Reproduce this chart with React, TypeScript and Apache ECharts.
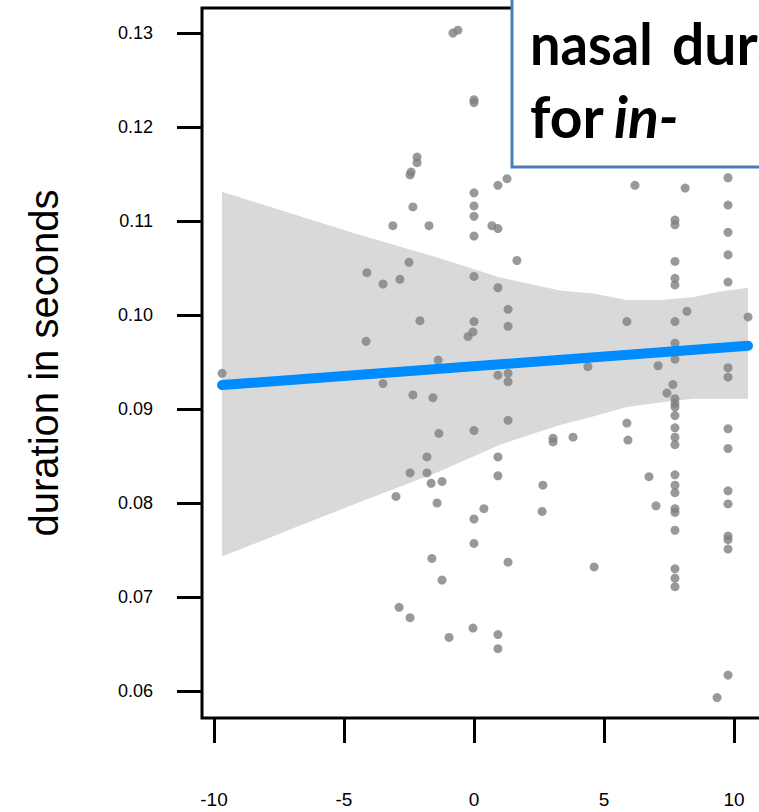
import { useEffect, useRef } from "react";
import * as echarts from "echarts";

// Axis ticks
const xTicks = [-10, -5, 0, 5, 10];
const yTicks = [0.06, 0.07, 0.08, 0.09, 0.1, 0.11, 0.12, 0.13];

// Observed nasal durations: [relative position, duration in s]
const tokens: [number, number][] = [
  [-9.69, 0.0938], [-0.81, 0.13], [-0.62, 0.1303], [0, 0.1229], [0, 0.1226],
  [-2.19, 0.1168], [-2.19, 0.1162], [-2.42, 0.1152], [-2.46, 0.1149],
  [0, 0.113], [0, 0.1116], [0, 0.1105], [0, 0.1084], [0.92, 0.1138],
  [1.27, 0.1145], [-2.35, 0.1115], [-3.12, 0.1095], [-1.73, 0.1095],
  [0.69, 0.1095], [0.92, 0.1092], [-2.5, 0.1056], [1.65, 0.1058],
  [-4.12, 0.1045], [-3.5, 0.1033], [-2.85, 0.1038], [0, 0.1041],
  [0.92, 0.1029], [1.31, 0.1006], [-2.08, 0.0994], [0, 0.0993],
  [-0.04, 0.0982], [-0.23, 0.0977], [1.31, 0.0988], [-4.15, 0.0972],
  [-1.38, 0.0952], [0.92, 0.0936], [1.31, 0.0938], [1.31, 0.0929],
  [-3.5, 0.0927], [-2.35, 0.0915], [-1.58, 0.0912], [1.31, 0.0888],
  [-1.35, 0.0874], [0, 0.0877], [3.04, 0.0869], [3.04, 0.0865],
  [-1.81, 0.0849], [0.92, 0.0849], [-2.46, 0.0832], [-1.81, 0.0832],
  [-1.65, 0.0821], [-1.23, 0.0823], [0.92, 0.0829], [2.65, 0.0819],
  [-3.0, 0.0807], [-1.42, 0.08], [0.38, 0.0794], [0, 0.0783],
  [2.62, 0.0791], [0, 0.0757], [-1.62, 0.0741], [1.31, 0.0737],
  [-1.23, 0.0718], [-2.88, 0.0689], [-2.46, 0.0678], [-0.96, 0.0657],
  [-0.04, 0.0667], [0.92, 0.066], [0.92, 0.0645],
  [6.19, 0.1138], [8.12, 0.1135], [9.77, 0.1146], [9.77, 0.1117],
  [7.73, 0.1101], [7.73, 0.1096], [9.77, 0.1088], [9.77, 0.1064],
  [7.73, 0.1057], [7.73, 0.1039], [7.73, 0.1032], [9.77, 0.1035],
  [8.19, 0.1004], [5.88, 0.0993], [7.73, 0.0993], [10.54, 0.0998],
  [7.73, 0.097], [7.73, 0.0953], [4.38, 0.0945], [7.08, 0.0946],
  [9.77, 0.0944], [9.77, 0.0934], [7.65, 0.0926], [7.42, 0.0917],
  [7.73, 0.0911], [7.73, 0.0906], [7.73, 0.0902], [7.73, 0.0893],
  [5.88, 0.0885], [7.73, 0.088], [9.77, 0.0879], [3.81, 0.087],
  [5.92, 0.0867], [7.73, 0.087], [7.73, 0.0862], [9.77, 0.0858],
  [4.62, 0.0732], [6.73, 0.0828], [7.0, 0.0797], [7.73, 0.083],
  [7.73, 0.0819], [7.73, 0.0811], [7.73, 0.0794], [7.73, 0.079],
  [7.73, 0.0771], [7.73, 0.073], [7.73, 0.072], [7.73, 0.0711],
  [9.77, 0.0813], [9.77, 0.0799], [9.77, 0.0765], [9.77, 0.0761],
  [9.77, 0.0751], [9.77, 0.0617], [9.35, 0.0593],
];

// Linear fit
const fitX = [-9.69, 10.54];
const fitY = [0.09255, 0.09673];

// Confidence band of the fit
const bandX = [-9.69, -6.69, -4.38, -1.38, 1.0, 3.31, 4.58, 5.88, 7.15, 8.42, 9.46, 10.54];
const bandUpper = [0.1131, 0.1105, 0.1085, 0.1061, 0.104, 0.1026, 0.1023, 0.1016, 0.1016, 0.1019, 0.1025, 0.1029];
const bandLower = [0.0743, 0.0776, 0.0801, 0.0833, 0.0862, 0.0883, 0.0892, 0.0902, 0.0907, 0.0911, 0.0911, 0.0911];

const yAxisTitle = "duration in seconds";
const headingWords1 = ["nasal", "duration"];
const headingWords2 = ["for", "in-"];

export default function App() {
  const ref = useRef<HTMLDivElement>(null);

  useEffect(() => {
    if (!ref.current) return;
    const chart = echarts.init(ref.current, null, { renderer: "svg" });

    const axisFont = "Liberation Sans, Arial, sans-serif";
    const headingStyle = {
      fontSize: 57,
      fontWeight: "bold",
      fontFamily: "Lato, sans-serif",
      fill: "#000",
      verticalAlign: "middle",
    };
    const word = (text: string, x: number, y: number, sx = 1, italic = false) => ({
      type: "text",
      z: 101,
      x,
      y,
      scaleX: sx,
      style: { ...headingStyle, fontStyle: italic ? "italic" : "normal", text },
    });

    chart.setOption({
      animation: false,
      grid: {
        left: 202,
        top: 8,
        width: 598,
        height: 710,
        show: true,
        borderColor: "#000",
        borderWidth: 3,
        backgroundColor: "transparent",
      },
      xAxis: {
        type: "value",
        min: -10.4615,
        max: 12.5385,
        axisLine: { show: false, onZero: false },
        splitLine: { show: false },
        axisTick: {
          show: true,
          length: 25,
          lineStyle: { color: "#000", width: 3 },
          customValues: xTicks,
        },
        axisLabel: {
          customValues: xTicks,
          margin: 72,
          fontSize: 19,
          fontFamily: axisFont,
          color: "#000",
        },
      },
      yAxis: {
        type: "value",
        min: 0.057128,
        max: 0.13266,
        axisLine: { show: false, onZero: false },
        splitLine: { show: false },
        axisTick: {
          show: true,
          length: 25,
          lineStyle: { color: "#000", width: 3 },
          customValues: yTicks,
        },
        axisLabel: {
          customValues: yTicks,
          margin: 49,
          fontSize: 18,
          fontFamily: axisFont,
          color: "#000",
          formatter: (v: number) => v.toFixed(2),
        },
        name: yAxisTitle,
        nameLocation: "middle",
        nameGap: 138,
        nameTextStyle: { fontSize: 40, fontFamily: axisFont, color: "#000" },
      },
      series: [
        {
          type: "custom",
          z: 1,
          data: [[bandX[0], bandLower[0]]],
          renderItem: (_params: any, api: any) => {
            const pts: number[][] = [];
            for (let i = 0; i < bandX.length; i++) pts.push(api.coord([bandX[i], bandUpper[i]]));
            for (let i = bandX.length - 1; i >= 0; i--) pts.push(api.coord([bandX[i], bandLower[i]]));
            return {
              type: "polygon",
              shape: { points: pts },
              style: { fill: "#d9d9d9", stroke: "none" },
            };
          },
        },
        {
          type: "scatter",
          z: 2,
          data: tokens,
          symbol: "circle",
          symbolSize: 9,
          itemStyle: { color: "#808080" },
        },
        {
          type: "line",
          z: 3,
          data: fitX.map((x, i) => [x, fitY[i]]),
          showSymbol: false,
          symbol: "none",
          lineStyle: { color: "#008cff", width: 10, cap: "round" },
        },
      ],
      graphic: [
        {
          type: "rect",
          z: 100,
          shape: { x: 512, y: -10, width: 300, height: 177 },
          style: { fill: "#fff", stroke: "#4a7ebb", lineWidth: 3 },
        },
        word(headingWords1[0], 530, 43, 0.95),
        word(headingWords1[1], 672, 43),
        word(headingWords2[0], 530, 116),
        word(headingWords2[1], 614, 116, 1, true),
      ],
    });

    return () => chart.dispose();
  }, []);

  return (
    <div
      ref={ref}
      style={{ position: "fixed", left: 0, top: 0, width: 800, height: 812, background: "#fff" }}
    />
  );
}
